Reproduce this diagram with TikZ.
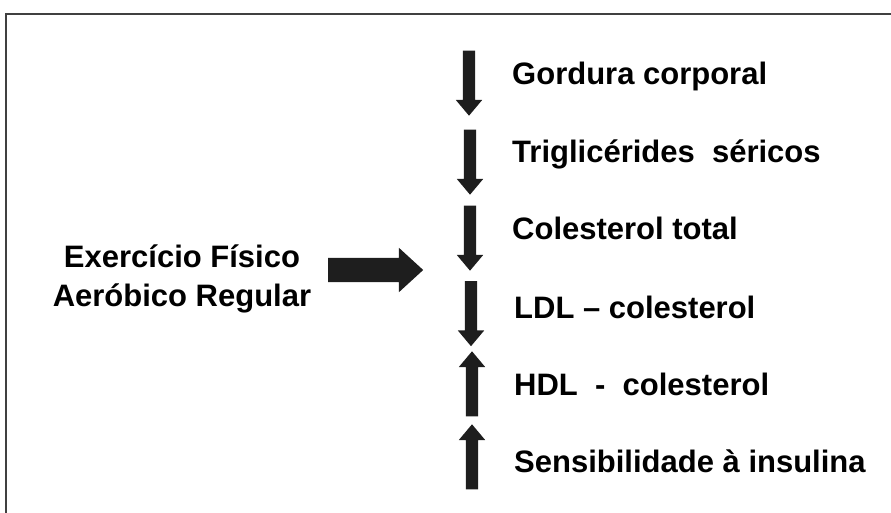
\documentclass[tikz,border=0pt]{standalone}
\usepackage{fontspec}
\setmainfont{Liberation Sans}
\usetikzlibrary{shapes.arrows}
\definecolor{arrowc}{HTML}{1E1E1E}
\definecolor{framec}{HTML}{404040}
\begin{document}
\begin{tikzpicture}[x=1pt,y=-1pt,
  lbl/.style={font=\fontsize{31}{36}\selectfont\bfseries, anchor=base west, inner sep=0pt},
  lft/.style={font=\fontsize{31}{36}\selectfont\bfseries, anchor=base, inner sep=0pt},
  vbar/.style={single arrow, fill=arrowc, draw=none, minimum width=26pt, minimum height=65pt,
    single arrow head extend=7pt, single arrow tip angle=80, inner xsep=0pt, inner ysep=6pt},
  downarr/.style={vbar, rotate=-90},
  uparr/.style={vbar, rotate=90},
  bigarr/.style={single arrow, fill=arrowc, draw=none, minimum width=44pt, minimum height=95pt,
    single arrow head extend=10pt, single arrow tip angle=85, inner xsep=0pt, inner ysep=12pt}]
\useasboundingbox (0,0) rectangle (891,513);
\draw[framec, line width=2.5pt] (6,530) -- (6,14) -- (900,14);

\node[lft] (ex1) at (182,267) {Exercício Físico};
\node[lft] (ex2) at (182,306) {Aeróbico Regular};
\node[bigarr] (big) at (369,270) {};

\node[downarr] (a1) at (469,79.5) {};
\node[downarr] (a2) at (470,158.5) {};
\node[downarr] (a3) at (470,234.5) {};
\node[downarr] (a4) at (471,310) {};
\node[uparr] (a5) at (472,387.5) {};
\node[uparr] (a6) at (472,460.5) {};

\node[lbl] (t1) at (512,85) {Gordura corporal};
\node[lbl] (t2) at (512,163) {Triglicérides\ \ séricos};
\node[lbl] (t3) at (512,240) {Colesterol total};
\node[lbl] (t4) at (514,318) {LDL – colesterol};
\node[lbl] (t5) at (514,395) {HDL\ \ -\ \ colesterol};
\node[lbl] (t6) at (514,472) {Sensibilidade à insulina};
\end{tikzpicture}
\end{document}
